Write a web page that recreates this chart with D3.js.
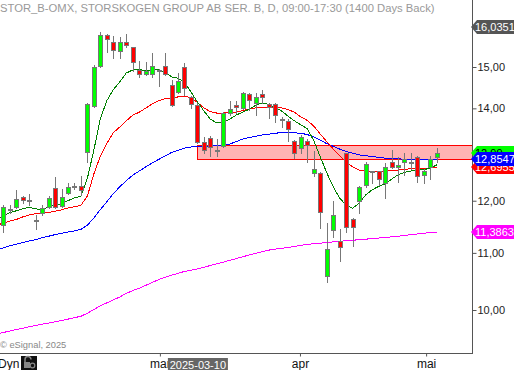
<!DOCTYPE html>
<html><head><meta charset="utf-8">
<script src="https://cdn.jsdelivr.net/npm/d3@7"></script>
<style>html,body{margin:0;padding:0;background:#fff;overflow:hidden}svg{display:block}</style>
</head><body><svg id="c" width="514" height="370"></svg>
<script>
const title = "STOR_B-OMX, STORSKOGEN GROUP AB SER. B, D, 09:00-17:30 (1400 Days Back)";
const copyright = "\u00a9 eSignal, 2025";
// daily candles (oldest first)
const open  = [11.53,11.84,11.88,12.07,12.02,11.61,11.76,11.88,12.26,11.90,12.16,12.30,12.30,13.02,14.05,15.02,15.82,15.64,15.41,15.64,15.51,14.925,14.83,14.83,14.925,15.02,14.55,14.39,15.00,14.27,14.08,13.24,13.33,13.07,13.15,13.89,14.09,14.01,14.34,14.12,14.34,14.10,14.10,13.75,13.71,13.26,13.11,13.26,12.57,12.57,10.59,11.43,11.22,13.00,11.64,12.00,12.32,12.60,12.60,12.36,12.80,12.70,12.80,12.80,12.91,12.53,12.70,12.91];
const high  = [11.92,11.92,12.22,12.10,12.14,11.72,11.92,12.10,12.485,12.24,12.36,12.37,12.50,14.12,15.05,15.90,15.84,15.79,15.77,15.84,15.52,15.15,15.13,15.35,14.95,15.35,14.68,14.85,15.10,14.30,14.12,13.35,13.37,13.31,13.92,14.17,14.17,14.39,14.37,14.37,14.44,14.12,14.12,13.80,13.75,13.28,13.39,13.31,13.04,12.58,11.57,12.00,11.45,13.00,11.66,12.30,12.80,12.62,12.62,12.78,13.07,12.91,13.00,13.00,12.92,12.66,12.93,13.11];
const low   = [11.39,11.76,11.86,11.95,11.92,11.45,11.72,11.86,11.86,11.88,12.14,12.24,12.12,12.80,14.03,15.00,15.38,15.23,15.23,15.51,14.90,14.75,14.80,14.75,14.54,14.80,14.05,14.37,14.32,14.00,13.22,13.00,12.93,12.93,13.13,13.85,13.89,13.98,13.96,13.85,14.12,13.78,13.685,13.57,13.26,12.89,13.00,12.80,12.50,11.47,10.48,11.30,10.86,11.39,11.13,11.76,12.28,12.36,12.32,12.05,12.68,12.38,12.53,12.66,12.38,12.36,12.45,12.80];
const close = [11.88,11.84,12.03,12.02,12.02,11.63,11.86,12.05,11.88,12.07,12.28,12.30,12.22,14.10,15.00,15.82,15.72,15.43,15.64,15.56,15.13,14.83,14.90,15.02,14.925,14.83,14.09,14.65,14.49,14.10,13.24,13.07,13.13,13.07,13.89,13.98,14.03,14.37,14.20,14.27,14.27,14.03,13.85,13.75,13.53,13.00,13.35,13.17,12.66,11.78,11.07,11.72,11.11,11.49,11.49,12.28,12.76,12.60,12.45,12.70,12.70,12.74,12.87,12.80,12.51,12.60,12.87,12.99];
// moving averages: first value belongs to the session before the first visible candle
const maGreen = [11.60,11.71,11.76,11.80,11.84,11.87,11.84,11.82,11.88,11.91,11.94,12.00,12.06,12.09,12.46,13.06,13.76,14.18,14.445,14.63,14.85,14.925,14.94,14.91,14.925,14.93,14.875,14.755,14.72,14.63,14.39,14.15,13.94,13.75,13.66,13.68,13.75,13.845,13.91,13.98,14.07,14.13,14.09,14.03,13.94,13.82,13.71,13.62,13.53,13.26,12.91,12.57,12.28,12.05,11.91,11.85,11.95,12.115,12.22,12.29,12.34,12.44,12.53,12.58,12.61,12.63,12.64,12.67,12.74];
const maRed = [11.52,11.56,11.60,11.63,11.68,11.72,11.745,11.75,11.77,11.79,11.82,11.855,11.88,11.91,12.095,12.55,12.93,13.20,13.44,13.57,13.71,13.84,13.91,14.005,14.10,14.175,14.225,14.24,14.27,14.285,14.25,14.14,14.01,13.925,13.89,13.89,13.90,13.91,13.95,13.98,14.01,14.03,14.01,14.01,14.01,13.97,13.91,13.80,13.72,13.59,13.41,13.24,13.08,12.94,12.80,12.695,12.63,12.61,12.61,12.61,12.61,12.62,12.63,12.645,12.66,12.67,12.67,12.67,12.6955];
const maBlue = [11.05,11.09,11.13,11.16,11.19,11.22,11.245,11.28,11.31,11.34,11.365,11.39,11.41,11.44,11.52,11.66,11.825,11.98,12.145,12.28,12.41,12.52,12.61,12.695,12.78,12.855,12.93,13.005,13.055,13.10,13.125,13.14,13.147,13.147,13.15,13.17,13.19,13.245,13.30,13.335,13.365,13.39,13.41,13.43,13.445,13.455,13.44,13.43,13.40,13.35,13.275,13.20,13.14,13.08,13.03,12.99,12.955,12.935,12.92,12.90,12.885,12.875,12.867,12.863,12.86,12.858,12.857,12.856,12.8547];
const maMagenta = [9.607,9.631,9.655,9.679,9.70,9.723,9.744,9.765,9.785,9.806,9.827,9.849,9.873,9.896,9.946,10.008,10.07,10.12,10.17,10.22,10.28,10.33,10.37,10.42,10.47,10.52,10.56,10.60,10.63,10.665,10.685,10.71,10.74,10.77,10.80,10.83,10.865,10.895,10.93,10.96,10.99,11.02,11.05,11.07,11.085,11.10,11.12,11.14,11.155,11.17,11.18,11.19,11.205,11.215,11.225,11.234,11.245,11.255,11.264,11.275,11.287,11.298,11.31,11.325,11.34,11.353,11.366,11.38,11.3863];
const priceTicks = [10, 11, 12, 14, 15];
const monthLabels = ["mar", "apr", "mai"];
const monthAt = [24.2, 45.85, 65.35];   // candle index where each month begins on the axis
const zoneLow = 12.86, zoneHigh = 13.17, zoneFrom = 30;
const crossDate = "2025-03-10", crossAt = 30;
const tagValues = [16.0351, 12.6955, 12.99, 12.8547, 11.3863];

const fmt2 = v => d3.format(".2f")(v).replace(".", ",");
const fmt4 = v => d3.format(".4f")(v).replace(".", ",");
const FONT = "'Liberation Sans', Arial, sans-serif";

const svg = d3.select("#c");
const plotR = 472, plotB = 353;
const x = d3.scaleLinear().domain([0, open.length - 1]).range([3.3, 436.8]);
const y = d3.scaleLog().domain([10, 15]).range([310, 67]);

svg.append("defs").append("clipPath").attr("id", "clip")
  .append("rect").attr("x", 0).attr("y", 0).attr("width", plotR).attr("height", plotB);
const plot = svg.append("g").attr("clip-path", "url(#clip)");

// resistance zone
const zx = Math.round(x(zoneFrom)) + 0.5;
const zt = Math.round(y(zoneHigh)) + 0.5, zb = Math.round(y(zoneLow)) + 0.5;
plot.append("rect").attr("x", zx).attr("y", zt).attr("width", plotR + 5 - zx).attr("height", zb - zt)
  .attr("fill", "#ffb3b3").attr("stroke", "#ff0000").attr("stroke-width", 1);

// moving averages
const maLine = d3.line().x((d, i) => x(i - 1)).y(d => y(d));
[[maMagenta, "#ff00ff"], [maBlue, "#0000ff"], [maRed, "#ff0000"], [maGreen, "#008000"]].forEach(([arr, col]) => {
  plot.append("path").attr("d", maLine(arr)).attr("fill", "none").attr("stroke", col)
    .attr("stroke-width", 1).attr("shape-rendering", "crispEdges");
});

// candles
const cg = plot.append("g");
open.forEach((o, i) => {
  const c = close[i];
  const cx = Math.round(x(i));
  cg.append("line").attr("x1", cx + 0.5).attr("x2", cx + 0.5)
    .attr("y1", Math.round(y(high[i]))).attr("y2", Math.round(y(low[i])) + 1)
    .attr("stroke", "#777").attr("stroke-width", 1);
  const top = Math.round(y(Math.max(o, c))), bot = Math.round(y(Math.min(o, c)));
  const fill = c > o ? "#00ff00" : (c < o ? "#ff0000" : "#777");
  cg.append("rect").attr("x", cx - 1.5).attr("y", top + 0.5).attr("width", 4)
    .attr("height", Math.max(1, bot - top)).attr("fill", fill).attr("stroke", "#777").attr("stroke-width", 1);
});

// copyright
svg.append("text").attr("x", 0).attr("y", 348).attr("font-family", FONT).attr("font-size", 9.3)
  .attr("fill", "#888").text(copyright);

// frame
svg.append("line").attr("x1", plotR + 0.5).attr("x2", plotR + 0.5).attr("y1", 0).attr("y2", plotB + 1)
  .attr("stroke", "#555");
svg.append("line").attr("x1", 0).attr("x2", plotR + 1).attr("y1", plotB + 0.5).attr("y2", plotB + 0.5)
  .attr("stroke", "#555");

// right price axis
const ya = svg.append("g").attr("transform", `translate(${plotR + 0.5},0)`)
  .call(d3.axisRight(y).tickValues(priceTicks).tickSize(4).tickPadding(1).tickFormat(fmt2));
ya.select(".domain").remove();
ya.selectAll("line").attr("stroke", "#555");
ya.selectAll("text").attr("font-family", FONT).attr("font-size", 11).attr("fill", "#222");

// bottom time axis
const xa = svg.append("g").attr("transform", `translate(0,${plotB + 0.5})`)
  .call(d3.axisBottom(x).tickValues(monthAt).tickSize(3).tickPadding(3).tickFormat((d, i) => monthLabels[i]));
xa.select(".domain").remove();
xa.selectAll("line").attr("stroke", "#555");
xa.selectAll("text").attr("font-family", FONT).attr("font-size", 12).attr("fill", "#111");

// crosshair date label
const cdx = x(crossAt) + 0.5;
svg.append("rect").attr("x", cdx - 30).attr("y", 358).attr("width", 60).attr("height", 14).attr("fill", "#666");
svg.append("text").attr("x", cdx).attr("y", 369).attr("text-anchor", "middle").attr("font-family", FONT)
  .attr("font-size", 11).attr("fill", "#fff").text(crossDate);

// "Dyn" and lock
svg.append("text").attr("x", -2).attr("y", 368).attr("font-family", FONT).attr("font-size", 12)
  .attr("fill", "#111").text("Dyn");
svg.append("rect").attr("x", 21).attr("y", 356).attr("width", 16).attr("height", 14).attr("fill", "#111");
svg.append("path").attr("d", "M25,362 v-2.5 a3,3 0 0 1 6,0").attr("fill", "none").attr("stroke", "#888").attr("stroke-width", 1.5);
svg.append("rect").attr("x", 24).attr("y", 362).attr("width", 6).attr("height", 6).attr("fill", "#888");
svg.append("circle").attr("cx", 32.5).attr("cy", 365.5).attr("r", 2.3).attr("fill", "none").attr("stroke", "#888").attr("stroke-width", 1.2);

// last value tags
const tagStyle = [["#555", "#fff"], ["#ff0000", "#fff"], ["#00ff00", "#000"], ["#0000ff", "#fff"], ["#ff00ff", "#fff"]];
tagValues.forEach((v, i) => {
  const yv = Math.round(y(v));
  svg.append("path").attr("d", `M${plotR - 1},${yv} L${plotR + 5},${yv - 7} L520,${yv - 7} L520,${yv + 7} L${plotR + 5},${yv + 7} Z`)
    .attr("fill", tagStyle[i][0]);
  svg.append("text").attr("x", plotR + 3).attr("y", yv + 4).attr("font-family", FONT).attr("font-size", 11)
    .attr("fill", tagStyle[i][1]).text(i === 2 ? fmt2(v) : fmt4(v));
});

// title
svg.append("text").attr("x", 0).attr("y", 12).attr("font-family", FONT).attr("font-size", 11.25)
  .attr("fill", "#999").text(title);
</script></body></html>
